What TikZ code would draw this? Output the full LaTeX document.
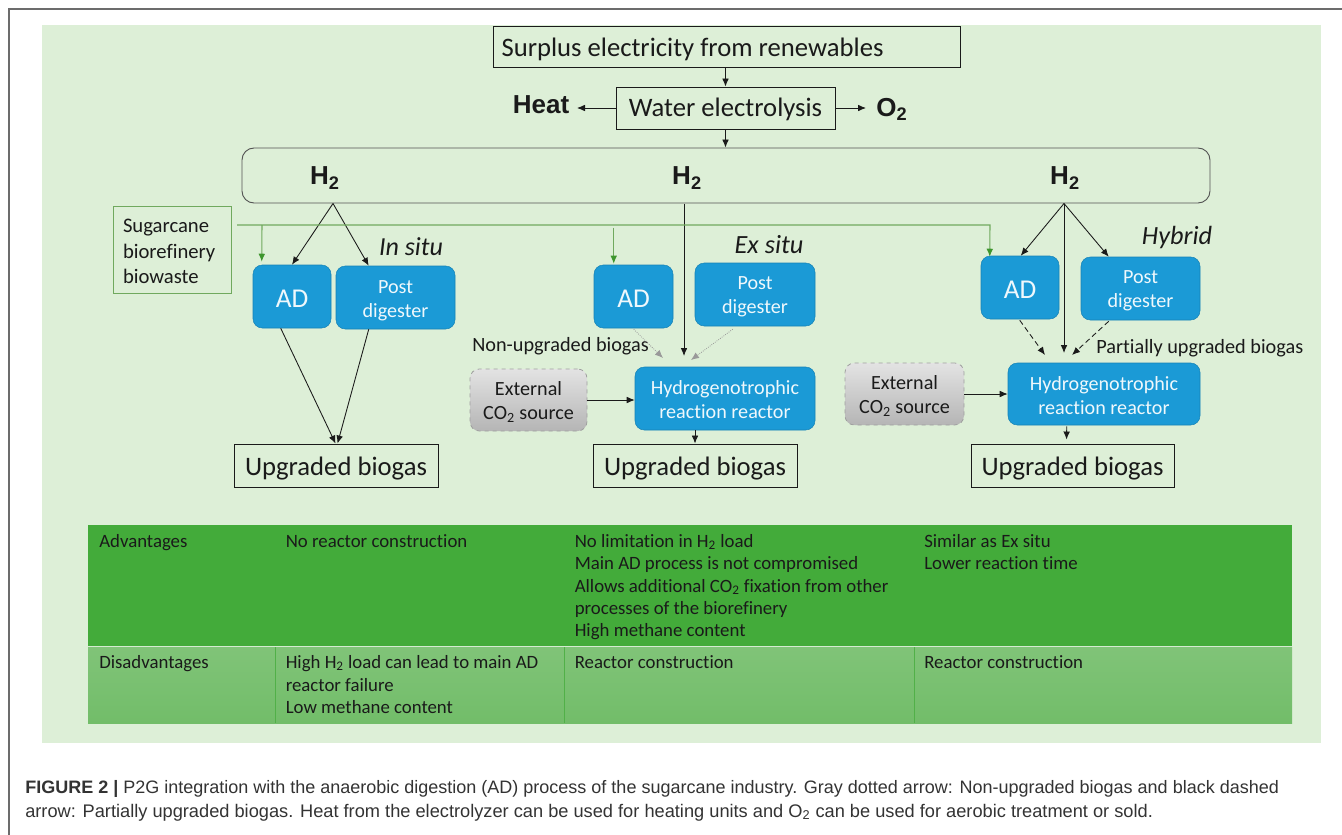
\documentclass[tikz,border=0pt]{standalone}
\usepackage{fontspec}
\setmainfont[Ligatures=NoCommon]{Carlito}
\newfontfamily\arial{Liberation Sans}
\usetikzlibrary{arrows.meta,calc}
\definecolor{bgG}{HTML}{DDEFD7}
\definecolor{advG}{HTML}{43AB3A}
\definecolor{disG}{HTML}{72BD69}
\definecolor{blueB}{HTML}{1B9AD6}
\definecolor{lineG}{HTML}{70A95E}
\definecolor{tipG}{HTML}{3E962E}
\definecolor{inkD}{HTML}{1A1A1A}
\definecolor{capT}{HTML}{333333}
\newcommand{\fsz}[1]{\fontsize{#1}{#1}\selectfont}
\newcommand{\sub}[1]{\textsubscript{#1}}
\newcommand{\tl}[1]{\rule{0pt}{#1pt}}
\tikzset{
  px/.style={x=0.75pt,y=-0.75pt},
  plainbox/.style={draw=inkD,line width=0.7pt,inner sep=0pt,text=inkD,font=\fsz{20}},
  blk/.style={rounded corners=7pt,fill=blueB,draw=blueB!85!black,line width=0.4pt,inner sep=0pt,align=center,font=\fsz{15.1},text=white!93!blueB},
  extbox/.style={rounded corners=7pt,top color=gray!22,bottom color=gray!58,draw=gray!75,dashed,line width=0.6pt,inner sep=0pt,align=center,text=inkD,font=\fsz{15.1}},
  arr/.style={-{Latex[length=6pt,width=5pt]},draw=inkD,line width=0.65pt},
  grayarr/.style={-{Latex[length=6pt,width=5pt]},draw=gray!80,densely dotted,line width=0.6pt},
  dasharr/.style={-{Latex[length=6pt,width=5pt]},draw=inkD,dash pattern=on 4pt off 2.5pt,line width=0.65pt},
  greenarr/.style={draw=lineG,line width=0.8pt,arrows={-{Latex[length=6pt,width=5pt,color=tipG]}}},
  cell/.style={anchor=base west,inner sep=0pt,text=inkD,font=\fsz{14.1}},
  lab/.style={inner sep=0pt,text=inkD},
  boldlab/.style={inner sep=0pt,text=inkD,font=\arial\bfseries\fsz{19.5}},
  captxt/.style={anchor=base west,inner sep=0pt,text=capT,font=\arial\fsz{13.5}}
}
% name, x1, y1, x2, y2, style, text
\newcommand{\bx}[7]{%
  \pgfmathsetmacro{\bw}{(#4-#2)*0.75}\pgfmathsetmacro{\bh}{(#5-#3)*0.75}%
  \node[#6,minimum width=\bw pt,minimum height=\bh pt] (#1) at ({(#2+#4)/2},{(#3+#5)/2}) {#7};}
\begin{document}
\begin{tikzpicture}[px]
\useasboundingbox (0,0) rectangle (1342,835);
\fill[white] (0,0) rectangle (1342,835);
\draw[gray!85!black,line width=0.9pt] (9,835) -- (9,9) -- (1342,9);
\fill[bgG] (42,25) rectangle (1321,743);
% table
\fill[advG] (88,525) rectangle (1292,646);
\fill[top color=disG!90!white,bottom color=disG] (88,647) rectangle (1292,723);
\draw[white!70!disG,line width=0.9pt] (88,646.5) -- (1292,646.5);
\foreach \cx in {275,564,914} \draw[advG!70!disG,line width=0.4pt] (\cx,647) -- (\cx,723);
\node[cell] (t00) at (99,547) {Advantages};
\node[cell] (t01) at (285.5,547) {No reactor construction};
\node[cell] (t02a) at (574.5,547) {No limitation in H\sub{2} load};
\node[cell] (t02b) at (574.5,569) {Main AD process is not compromised};
\node[cell] (t02c) at (574.5,592) {Allows additional CO\sub{2} fixation from other};
\node[cell] (t02d) at (574.5,614) {processes of the biorefinery};
\node[cell] (t02e) at (574.5,636) {High methane content};
\node[cell] (t03a) at (924,547) {Similar as Ex situ};
\node[cell] (t03b) at (924,569) {Lower reaction time};
\node[cell] (t10) at (99,668) {Disadvantages};
\node[cell] (t11a) at (285.5,668) {High H\sub{2} load can lead to main AD};
\node[cell] (t11b) at (285.5,691) {reactor failure};
\node[cell] (t11c) at (285.5,713) {Low methane content};
\node[cell] (t12) at (574.5,668) {Reactor construction};
\node[cell] (t13) at (924,668) {Reactor construction};
% top boxes
\bx{surplus}{493}{26}{960}{67}{plainbox}{\tl{17.6}Surplus electricity from renewables\hspace*{51pt}}
\bx{water}{616}{87}{835}{129}{plainbox}{\tl{16}Water electrolysis}
\bx{hbox}{242}{148}{1210}{203}{draw=inkD!75,line width=0.7pt,rounded corners=9pt}{}
\node[boldlab] (heat) at (541,105) {Heat};
\node[boldlab,anchor=west] (oxy) at (876,109) {O\sub{2}};
\node[boldlab] (h1) at (325,178) {H\sub{2}};
\node[boldlab] (h2) at (687,178) {H\sub{2}};
\node[boldlab] (h3) at (1065,178) {H\sub{2}};
\coordinate (heatend) at (577,108);
\coordinate (oxyend) at (866,108);
\draw[arr] (surplus.south -| water.north) -- (water.north);
\draw[arr] (water.west) -- (heatend);
\draw[arr] (water.east) -- (oxyend);
\draw[arr] (water.south) -- (water.south |- hbox.north);
% sugarcane
\bx{sugar}{113}{206}{231}{293}{draw=lineG,line width=0.6pt,inner sep=0pt,text=inkD,font=\fsz{15.5},align=left,text width=73.5pt}{\tl{13}Sugarcane\\[3.6pt]biorefinery\\[3.6pt]biowaste}
% In situ
\bx{ad1}{253}{265}{331}{328}{blk,font=\fsz{20.4}}{\tl{16}AD}
\bx{post1}{336}{266}{455}{329}{blk}{\tl{14.1}Post\\[2.9pt]digester}
\bx{up1}{234}{444}{438}{487}{plainbox}{\tl{19}Upgraded biogas}
\node[lab,font=\itshape\fsz{19.5}] (ins) at (411,247) {In situ};
% Ex situ
\bx{ad2}{594}{265}{673}{328}{blk,font=\fsz{20.4}}{\tl{16}AD}
\bx{post2}{695}{263}{815}{326}{blk}{\tl{12.6}Post\\[2.9pt]digester}
\bx{hy2}{635}{367}{815}{430}{blk}{\tl{12.5}Hydrogenotrophic\\[2.9pt]reaction reactor}
\bx{ext2}{470}{369}{587}{431}{extbox}{\tl{14}External\\[2.9pt]CO\sub{2} source}
\bx{up2}{593}{444}{797}{487}{plainbox}{\tl{19}Upgraded biogas}
\node[lab,font=\itshape\fsz{19.7}] (exs) at (769,245) {Ex situ};
\node[lab,font=\fsz{15.2},anchor=west] (nonup) at (472,346) {Non-upgraded biogas};
% Hybrid
\bx{ad3}{981}{256}{1059}{319}{blk,font=\fsz{20.4}}{\tl{16}AD}
\bx{post3}{1081}{257}{1200}{320}{blk}{\tl{12.6}Post\\[2.9pt]digester}
\bx{hy3}{1008}{363}{1200}{425}{blk}{\tl{12.5}Hydrogenotrophic\\[2.9pt]reaction reactor}
\bx{ext3}{845}{363}{964}{425}{extbox}{\tl{14}External\\[2.9pt]CO\sub{2} source}
\bx{up3}{971}{444}{1174}{487}{plainbox}{\tl{19}Upgraded biogas}
\node[lab,font=\itshape\fsz{19.7}] (hyb) at (1177,237) {Hybrid};
\node[lab,font=\fsz{15.2},anchor=west] (parup) at (1096,348) {Partially upgraded biogas};
% in situ connectors
\coordinate (ha) at (333,203.5);
\coordinate (hb) at (684,203.5);
\coordinate (hc) at (1064,203.5);
\draw[arr] (ha) -- (ad1.north);
\draw[arr] (ha) -- ($(post1.north west)+(33,0)$);
\draw[arr] ($(ad1.south west)+(28,0)$) -- ($(up1.north west)+(102,0)$);
\draw[arr] ($(post1.south west)+(33,0)$) -- ($(up1.north west)+(104,0)$);
% ex situ connectors
\coordinate (m2a) at (663,358);
\coordinate (m2b) at (691,360);
\coordinate (m2c) at (684,356);
\draw[arr] (hb) -- (m2c);
\draw[grayarr] ($(ad2.south west)+(40,1)$) -- (m2a);
\draw[grayarr] ($(post2.south west)+(38,3)$) -- (m2b);
\draw[arr] (ext2.east) -- (hy2.west |- ext2.east);
\draw[arr] (hy2.south -| up2.north) -- (up2.north);
% hybrid connectors
\coordinate (m3a) at (1045,355);
\coordinate (m3b) at (1072,355);
\coordinate (m3c) at (1064,353);
\draw[arr] (hc) -- ($(ad3.north west)+(40,0)$);
\draw[arr] (hc) -- ($(post3.north west)+(28,0)$);
\draw[arr] (hc) -- (m3c);
\draw[dasharr] ($(ad3.south west)+(39,1)$) -- (m3a);
\draw[dasharr] ($(post3.south west)+(28,1)$) -- (m3b);
\draw[arr] (ext3.east) -- (hy3.west);
\draw[arr] ($(hy3.south west)+(59,1)$) -- ($(up3.north west)+(96,-4)$);
% green lines
\coordinate (gs) at (237,225);
\coordinate (gc) at (990,225);
\coordinate (g1) at (262,225);
\draw[greenarr] (gs) -- (gc) -- ($(ad3.north west)+(9,1)$);
\draw[greenarr] (g1) -- ($(ad1.north west)+(9,-3)$);
\draw[greenarr] ($(ad2.north west)+(20,-37)$) -- ($(ad2.north west)+(20,-1)$);
% caption
\node[captxt] (c1) at (25,793.5) {{\bfseries FIGURE 2 |} P2G integration with the anaerobic digestion (AD) process of the sugarcane industry. Gray dotted arrow: Non-upgraded biogas and black dashed};
\node[captxt,font=\arial\fsz{13.67}] (c2) at (25,817) {arrow: Partially upgraded biogas. Heat from the electrolyzer can be used for heating units and O\sub{2} can be used for aerobic treatment or sold.};
\end{tikzpicture}
\end{document}
